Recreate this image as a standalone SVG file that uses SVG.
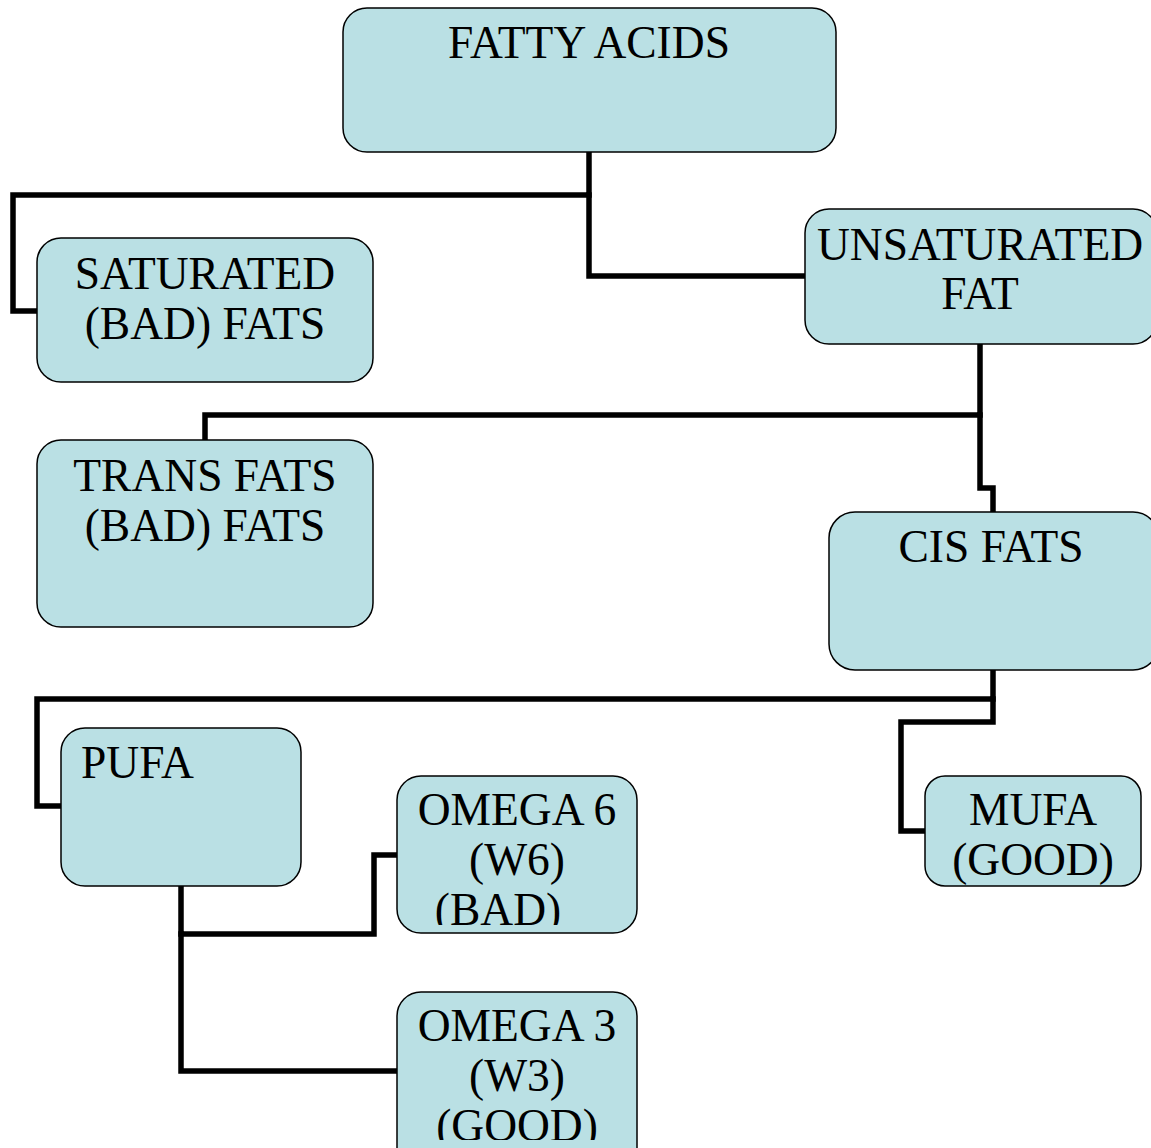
<svg xmlns="http://www.w3.org/2000/svg" width="1151" height="1148" viewBox="0 0 1151 1148">
<style>
.box{fill:#BAE0E4;stroke:#000;stroke-width:1.5}
.lbl{font-family:"Liberation Serif","Times New Roman",serif;font-size:45.5px;fill:#000}
.c{text-anchor:middle}
.wire{fill:none;stroke:#000;stroke-width:5.5;stroke-linejoin:miter;stroke-linecap:square}
</style>
<defs>
<clipPath id="clipO6"><rect x="397" y="776" width="241" height="149"/></clipPath>
<clipPath id="clipO3"><rect x="397" y="992" width="241" height="148"/></clipPath>
</defs>
<rect width="1151" height="1148" fill="#fff"/>
<g id="connectors">
<path class="wire" d="M589,152 V195 H13 V311 H37"/>
<path class="wire" d="M589,195 V276 H805"/>
<path class="wire" d="M980,344 V415 H205 V440"/>
<path class="wire" d="M980,415 V488 H993 V512"/>
<path class="wire" d="M993,670 V699 H37 V806 H61"/>
<path class="wire" d="M993,699 V722 H901 V831 H925"/>
<path class="wire" d="M181,886 V934 H374 V855 H397"/>
<path class="wire" d="M181,934 V1071 H397"/>
</g>
<g id="fatty-acids">
<rect class="box" x="343" y="8" width="493" height="144" rx="24"/>
<text class="lbl c" x="589" y="58">FATTY ACIDS</text>
</g>
<g id="saturated">
<rect class="box" x="37" y="238" width="336" height="144" rx="24"/>
<text class="lbl c" x="205" y="289">SATURATED</text>
<text class="lbl c" x="205" y="339">(BAD) FATS</text>
</g>
<g id="unsaturated">
<rect class="box" x="805" y="209" width="352" height="135" rx="24"/>
<text class="lbl c" x="980" y="260">UNSATURATED</text>
<text class="lbl c" x="980" y="309">FAT</text>
</g>
<g id="trans-fats">
<rect class="box" x="37" y="440" width="336" height="187" rx="24"/>
<text class="lbl c" x="205" y="491">TRANS FATS</text>
<text class="lbl c" x="205" y="541">(BAD) FATS</text>
</g>
<g id="cis-fats">
<rect class="box" x="829" y="512" width="330" height="158" rx="26"/>
<text class="lbl c" x="991" y="562">CIS FATS</text>
</g>
<g id="pufa">
<rect class="box" x="61" y="728" width="240" height="158" rx="24"/>
<text class="lbl" x="81" y="778">PUFA</text>
</g>
<g id="omega6">
<rect class="box" x="397" y="776" width="240" height="157" rx="24"/>
<g clip-path="url(#clipO6)">
<text class="lbl c" x="517" y="825">OMEGA 6</text>
<text class="lbl c" x="517" y="875">(W6)</text>
<text class="lbl c" x="498" y="925">(BAD)</text>
</g>
</g>
<g id="omega3">
<rect class="box" x="397" y="992" width="240" height="180" rx="24"/>
<g clip-path="url(#clipO3)">
<text class="lbl c" x="517" y="1041">OMEGA 3</text>
<text class="lbl c" x="517" y="1091">(W3)</text>
<text class="lbl c" x="517" y="1141">(GOOD)</text>
</g>
</g>
<g id="mufa">
<rect class="box" x="925" y="776" width="216" height="110" rx="20"/>
<text class="lbl c" x="1033" y="825">MUFA</text>
<text class="lbl c" x="1033" y="875">(GOOD)</text>
</g>
</svg>
